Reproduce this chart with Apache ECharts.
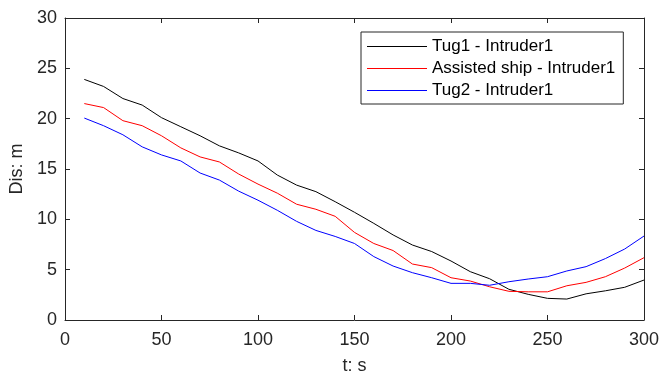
<!DOCTYPE html>
<html>
<head>
<meta charset="utf-8">
<script src="https://cdn.jsdelivr.net/npm/echarts@6/dist/echarts.min.js"></script>
<style>html,body{margin:0;padding:0;background:#fff}#c{width:662px;height:376px}</style>
</head>
<body>
<div id="c"></div>
<script>
var times = [10,20,30,40,50,60,70,80,90,100,110,120,130,140,150,160,170,180,190,200,210,220,230,240,250,260,270,280,290,300];
var tug1 = [23.9,23.2,22.0,21.35,20.1,19.2,18.3,17.3,16.6,15.8,14.4,13.4,12.75,11.75,10.7,9.6,8.45,7.45,6.8,5.86,4.8,4.1,3.05,2.55,2.15,2.08,2.6,2.9,3.25,3.97];
var assisted = [21.5,21.1,19.8,19.3,18.3,17.1,16.2,15.7,14.5,13.5,12.6,11.5,11.0,10.3,8.7,7.6,6.9,5.56,5.2,4.2,3.87,3.3,2.85,2.8,2.8,3.4,3.74,4.3,5.16,6.19];
var tug2 = [20.06,19.3,18.4,17.2,16.4,15.8,14.6,13.9,12.8,11.9,10.9,9.8,8.9,8.3,7.6,6.3,5.36,4.7,4.2,3.64,3.64,3.45,3.8,4.07,4.3,4.87,5.3,6.1,7.05,8.34];
var seriesNames = ['Tug1 - Intruder1','Assisted ship - Intruder1','Tug2 - Intruder1'];
var xTicks = [0,50,100,150,200,250,300];
var yTicks = [0,5,10,15,20,25,30];

function pairs(v){ return times.map(function(t,i){ return [t, v[i]]; }); }
var axisCol = '#262626';
var font = 'Arial, "Liberation Sans", Helvetica, sans-serif';
function mkX(pos, show){
  return {type:'value', position:pos, min:xTicks[0], max:xTicks[xTicks.length-1], interval:50,
    axisLine:{onZero:false, lineStyle:{color:axisCol,width:1}},
    axisTick:{show:true, inside:true, length:5, lineStyle:{color:axisCol}},
    axisLabel:{show:show, color:axisCol, fontSize:18, fontFamily:font, margin:11},
    splitLine:{show:false},
    name: show ? 't: s' : '', nameLocation:'middle', nameGap:37,
    nameTextStyle:{color:axisCol, fontSize:18, fontFamily:font}};
}
function mkY(pos, show){
  return {type:'value', position:pos, min:yTicks[0], max:yTicks[yTicks.length-1], interval:5,
    axisLine:{onZero:false, lineStyle:{color:axisCol,width:1}},
    axisTick:{show:true, inside:true, length:5, lineStyle:{color:axisCol}},
    axisLabel:{show:show, color:axisCol, fontSize:18, fontFamily:font, margin:8},
    splitLine:{show:false},
    name: show ? 'Dis: m' : '', nameLocation:'middle', nameGap:36,
    nameTextStyle:{color:axisCol, fontSize:18, fontFamily:font}};
}
var colors = ['#000000','#ff0000','#0000ff'];
var datasets = [tug1, assisted, tug2];
var chart = echarts.init(document.getElementById('c'), null, {renderer:'canvas'});
chart.setOption({
  animation:false,
  backgroundColor:'#fff',
  grid:{left:65, right:18, top:18, bottom:56, containLabel:false, outerBoundsMode:'none'},
  legend:{orient:'vertical', left:361, top:32, itemWidth:60, itemHeight:14, itemGap:5,
    icon:'path://M0,0L60,0L60,1L0,1Z', symbolKeepAspect:true,
    padding:[6,8,5,6], borderColor:'#262626', borderWidth:1, backgroundColor:'#fff',
    textStyle:{color:'#000', fontSize:17, fontFamily:font},
    data:seriesNames},
  xAxis:[mkX('bottom', true), mkX('top', false)],
  yAxis:[mkY('left', true), mkY('right', false)],
  series: datasets.map(function(d,i){
    return {name:seriesNames[i], type:'line', data:pairs(d), symbol:'none', showSymbol:false,
      lineStyle:{color:colors[i], width:1}, itemStyle:{color:colors[i]}};
  })
});
</script>
</body>
</html>
